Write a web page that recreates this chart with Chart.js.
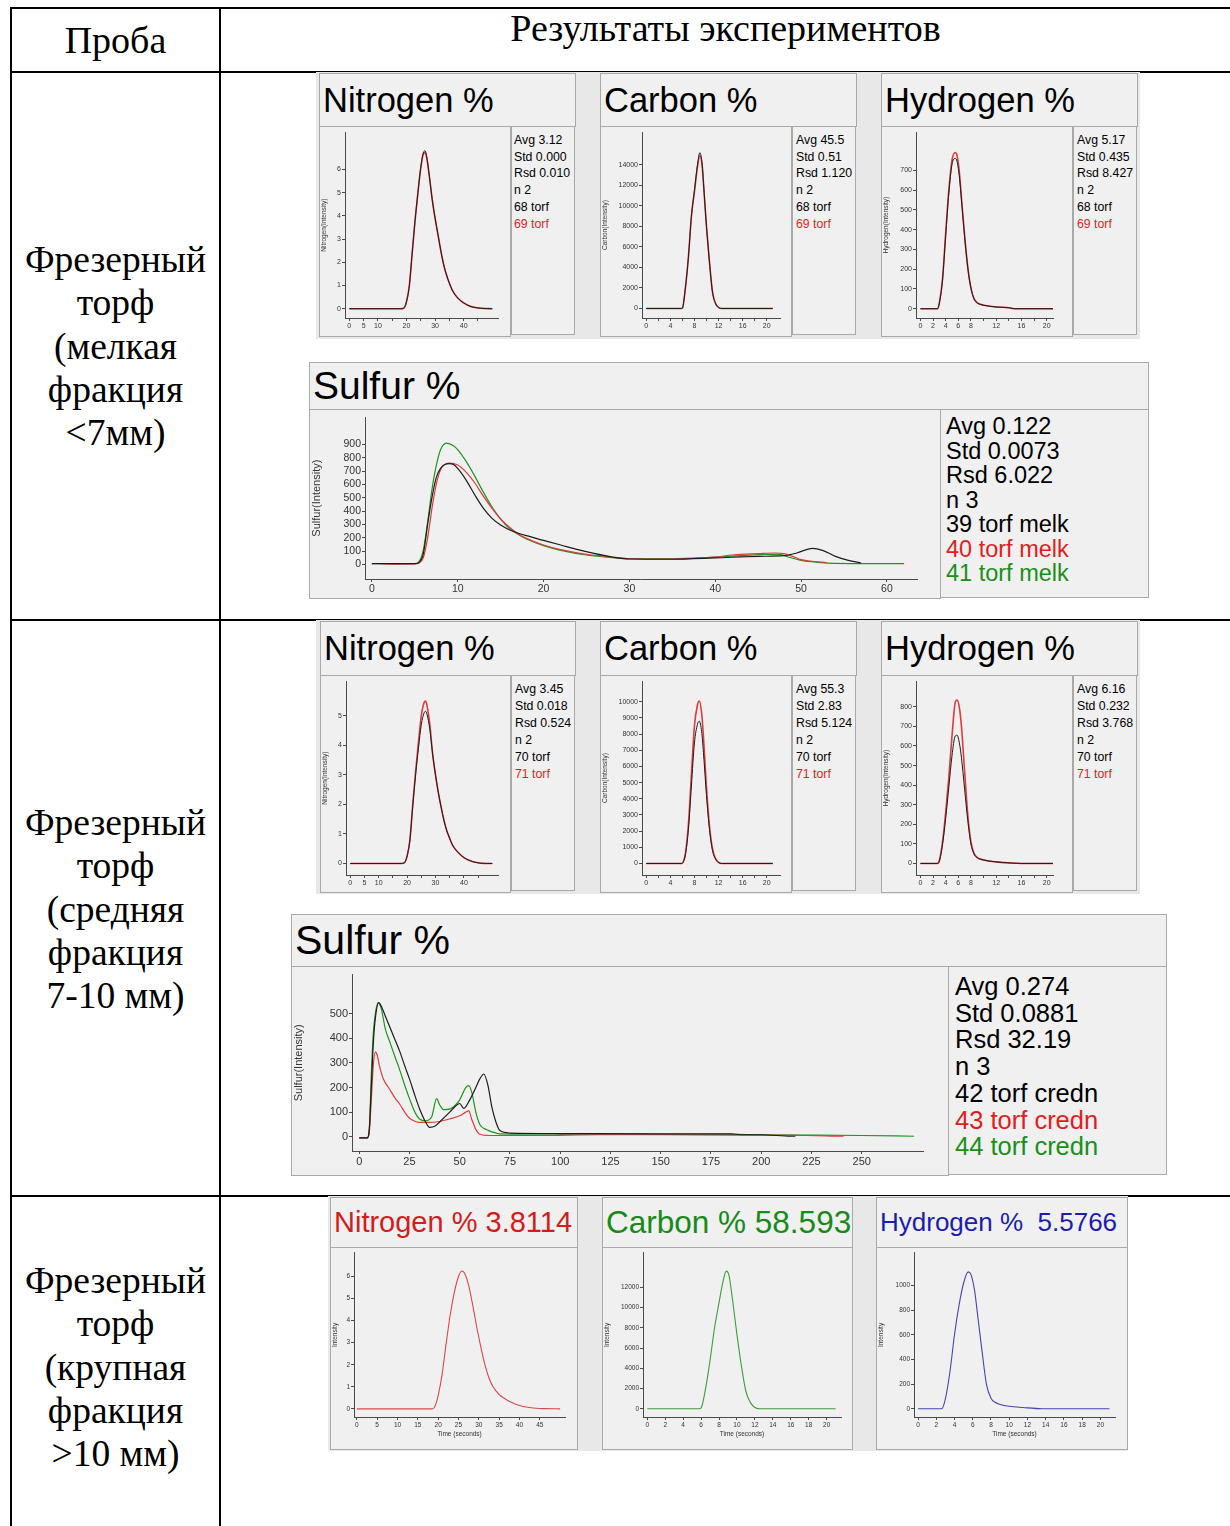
<!DOCTYPE html>
<html lang="ru">
<head>
<meta charset="utf-8">
<title>Результаты экспериментов</title>
<script src="https://cdn.jsdelivr.net/npm/chart.js@4.4.1/dist/chart.umd.min.js"></script>
<style>
  html, body { margin: 0; padding: 0; background: #fff; }
  body { width: 1230px; height: 1526px; position: relative; overflow: hidden;
         font-family: 'Liberation Serif', 'Times New Roman', serif; }
  .rule { position: absolute; background: #000; }
  .cell { position: absolute; text-align: center; color: #000; font-size: 37.5px; line-height: 43.3px; }
  .strip { position: absolute; background: #e8e8e8; }
  .box { position: absolute; box-sizing: border-box; background: #f0f0f0; border: 1px solid #a9a9a9; }
  .ttl { font-family: 'Liberation Sans', Arial, sans-serif; white-space: pre; padding-left: 3px; overflow: hidden; }
  .sts { font-family: 'Liberation Sans', Arial, sans-serif; white-space: pre; color: #000; overflow: hidden; }
  .box canvas { position: absolute; left: 0; top: 0; }
</style>
</head>
<body>

<!-- table rules -->
<div class="rule" style="left:10px;top:7px;width:1220px;height:2px"></div>
<div class="rule" style="left:10px;top:71px;width:1220px;height:2px"></div>
<div class="rule" style="left:10px;top:619px;width:1220px;height:2px"></div>
<div class="rule" style="left:10px;top:1195px;width:1220px;height:2px"></div>
<div class="rule" style="left:10px;top:7px;width:2px;height:1519px"></div>
<div class="rule" style="left:219px;top:7px;width:2px;height:1519px"></div>

<div class="cell" style="left:12px;top:20px;width:207px;line-height:40px;font-size:38px">Проба</div>
<div class="cell" style="left:221px;top:8px;width:1009px;line-height:40px;font-size:38px">Результаты экспериментов</div>

<div class="cell" style="left:12px;top:238px;width:207px">Фрезерный<br>торф<br>(мелкая<br>фракция<br>&lt;7мм)</div>
<div class="cell" style="left:12px;top:801px;width:207px">Фрезерный<br>торф<br>(средняя<br>фракция<br>7-10 мм)</div>
<div class="cell" style="left:12px;top:1259px;width:207px">Фрезерный<br>торф<br>(крупная<br>фракция<br>&gt;10 мм)</div>

<div class="strip" style="left:316px;top:72px;width:824px;height:267px"></div>
<div class="strip" style="left:316px;top:620px;width:824px;height:274px"></div>
<div class="strip" style="left:328px;top:1196px;width:800px;height:255px"></div>

<script>
// ---- time axes and intensities ----

// fine fraction (<7 mm), samples 68 / 69
const N1_T  = [0, 18, 19, 20, 21, 22, 23, 24, 25, 26, 26.5, 27, 28, 29, 30, 31, 32, 33, 34, 35, 36, 38, 40, 42, 44, 46, 50];
const N1_68 = [0, 0, 0.02, 0.3, 1.0, 2.4, 3.8, 5.0, 6.1, 6.75, 6.8, 6.6, 5.7, 4.7, 3.9, 3.2, 2.5, 1.9, 1.45, 1.1, 0.8, 0.45, 0.25, 0.12, 0.05, 0.02, 0];
const N1_69 = [0, 0, 0.02, 0.3, 1.0, 2.4, 3.8, 5.0, 6.05, 6.7, 6.72, 6.55, 5.7, 4.7, 3.9, 3.2, 2.5, 1.9, 1.45, 1.1, 0.8, 0.45, 0.25, 0.12, 0.05, 0.02, 0];

const C1_T  = [0, 5.8, 6, 6.5, 7, 7.5, 8, 8.5, 8.9, 9.3, 9.5, 10, 10.5, 11, 11.5, 12, 12.5, 21];
const C1_68 = [0, 0, 30, 2000, 5000, 9000, 11500, 14000, 15200, 14000, 12300, 8000, 4500, 1600, 500, 100, 0, 0];
const C1_69 = [0, 0, 30, 2000, 5000, 9000, 11400, 13800, 14900, 13800, 12200, 8000, 4500, 1600, 500, 100, 0, 0];

const H1_T  = [0, 2.7, 3, 3.5, 4, 4.5, 5, 5.5, 5.8, 6.2, 6.5, 7, 7.5, 8, 8.5, 9, 10, 12, 14, 15, 21];
const H1_68 = [0, 0, 28, 145, 370, 585, 730, 760, 745, 660, 550, 365, 208, 104, 50, 30, 18, 9, 5, 0, 0];
const H1_69 = [0, 0, 30, 150, 380, 600, 750, 790, 775, 680, 560, 370, 210, 105, 50, 30, 18, 9, 5, 0, 0];

const S1_39_T = [0, 5, 5.5, 6, 6.5, 7, 7.5, 8, 9, 9.5, 10, 11, 12, 13, 14, 15, 16, 17, 18, 20, 22, 24, 26, 28, 30, 35, 40, 45, 48, 49.5, 51.3, 52.5, 54, 55.5, 57];
const S1_39   = [5, 5, 15, 80, 300, 500, 650, 720, 755, 750, 720, 630, 520, 420, 345, 295, 260, 235, 215, 180, 145, 110, 80, 55, 40, 38, 48, 60, 65, 85, 120, 105, 60, 30, 10];
const S1_40_T = [1, 3, 5, 5.5, 6, 6.5, 7, 7.5, 8, 9, 10, 11, 12, 13, 14, 15, 16, 17, 18, 20, 22, 25, 28, 30, 35, 40, 42, 45, 47, 48, 49, 50, 51, 53];
const S1_40   = [5, 2, 3, 10, 50, 200, 420, 600, 710, 760, 745, 690, 610, 510, 420, 340, 280, 230, 195, 145, 110, 75, 55, 42, 40, 55, 70, 80, 85, 80, 60, 35, 25, 12];
const S1_41_T = [0, 5, 5.5, 6, 6.5, 7, 7.5, 8, 8.7, 9.5, 10, 11, 12, 13, 14, 15, 16, 17, 18, 20, 22, 25, 28, 30, 35, 40, 43, 46, 47.5, 48.5, 50, 52, 54, 58, 62];
const S1_41   = [5, 5, 20, 110, 320, 560, 740, 860, 910, 890, 860, 770, 660, 540, 430, 340, 270, 225, 190, 140, 105, 70, 50, 42, 42, 55, 65, 75, 75, 55, 30, 15, 7, 5, 5];

// medium fraction (7-10 mm), samples 70 / 71
const N2_T  = N1_T;
const N2_70 = [0, 0, 0.02, 0.25, 0.8, 1.95, 3.0, 3.9, 4.7, 5.1, 5.15, 5.05, 4.55, 3.7, 3.0, 2.4, 1.9, 1.45, 1.1, 0.85, 0.62, 0.37, 0.2, 0.1, 0.04, 0.01, 0];
const N2_71 = [0, 0, 0.02, 0.25, 0.8, 2.0, 3.1, 4.1, 5.0, 5.45, 5.5, 5.35, 4.7, 3.7, 3.0, 2.4, 1.9, 1.45, 1.1, 0.85, 0.62, 0.37, 0.2, 0.1, 0.04, 0.01, 0];

const C2_T  = [0, 5.9, 6.2, 6.5, 7, 7.5, 8, 8.5, 8.8, 9.2, 9.5, 10, 10.5, 11, 11.5, 12, 12.5, 21];
const C2_70 = [0, 0, 130, 530, 2100, 4800, 7450, 8600, 8800, 8150, 6850, 4200, 2100, 800, 270, 60, 0, 0];
const C2_71 = [0, 0, 150, 600, 2400, 5500, 8500, 9800, 10050, 9300, 7800, 4700, 2300, 900, 300, 70, 0, 0];

const H2_T  = [0, 2.7, 3, 3.5, 4, 4.5, 5, 5.5, 5.8, 6.2, 6.5, 7, 7.5, 8, 8.5, 9, 10, 12, 14, 16, 21];
const H2_70 = [0, 0, 12, 95, 230, 390, 550, 650, 655, 610, 540, 380, 220, 100, 48, 30, 18, 8, 3, 0, 0];
const H2_71 = [0, 0, 15, 110, 260, 440, 650, 820, 835, 790, 700, 470, 250, 110, 50, 30, 18, 8, 3, 0, 0];

const S2_42_T = [0, 4, 5, 6, 7, 8, 9.7, 11, 13, 15, 18, 20, 23, 25, 28, 30, 33, 35, 38, 40, 45, 48, 50, 52, 55, 58, 60, 62, 64, 66, 68, 70, 75, 100, 150, 185, 190, 200, 215, 217];
const S2_42   = [-5, -5, 30, 200, 380, 480, 545, 530, 490, 450, 390, 350, 280, 235, 160, 114, 60, 38, 45, 60, 100, 125, 135, 115, 150, 200, 235, 255, 210, 120, 60, 25, 15, 13, 12, 12, 8, 8, 2, 2];
const S2_43_T = [0, 4, 5, 6, 7, 8, 9, 10, 12, 15, 18, 20, 23, 25, 28, 30, 35, 40, 45, 50, 53, 54.5, 56, 58, 60, 65, 88, 120, 150, 186, 215, 241];
const S2_43   = [-5, -5, 20, 150, 290, 345, 330, 290, 235, 195, 155, 134, 95, 75, 62, 58, 58, 62, 72, 85, 100, 105, 70, 30, 10, 5, 5, 8, 8, 6, 6, 2];
const S2_44_T = [0, 4, 5, 6, 7, 8, 9.5, 11, 13, 15, 18, 20, 23, 25, 28, 30, 33, 36, 38.5, 40, 42, 45, 48, 50, 53, 54.5, 56, 58, 60, 63, 66, 70, 100, 150, 188, 200, 250, 276];
const S2_44   = [-5, -5, 30, 250, 420, 500, 545, 520, 437, 390, 320, 275, 200, 155, 95, 72, 65, 80, 155, 130, 110, 112, 130, 150, 200, 208, 180, 100, 50, 30, 20, 12, 10, 10, 10, 8, 5, 2];

// coarse fraction (>10 mm), single runs
const N3_T = [0, 18.5, 19, 19.5, 20, 21, 22, 23, 24, 25, 25.8, 26.5, 27.5, 28.5, 29.5, 30.5, 31.5, 32.5, 33.5, 35, 36.5, 38, 40, 42, 44, 46, 50];
const N3_V = [0, 0, 0.05, 0.25, 0.6, 1.6, 3.0, 4.3, 5.3, 6.0, 6.25, 6.15, 5.6, 4.7, 3.7, 2.8, 2.0, 1.4, 1.0, 0.65, 0.45, 0.3, 0.15, 0.07, 0.03, 0.01, 0];
const C3_T = [0, 5.8, 6, 6.5, 7, 7.5, 8, 8.5, 8.8, 9.1, 9.5, 10, 10.5, 11, 11.5, 12, 12.5, 21];
const C3_V = [0, 0, 80, 2000, 4800, 8000, 10500, 12800, 13600, 13200, 10800, 7300, 4200, 1700, 600, 120, 0, 0];
const H3_T = [0, 2.6, 3, 3.5, 4, 4.5, 5, 5.5, 5.8, 6.2, 6.6, 7, 7.5, 8, 8.5, 9, 10, 11.5, 13.6, 21];
const H3_V = [0, 0, 80, 300, 600, 840, 1020, 1110, 1090, 960, 720, 480, 200, 85, 50, 35, 20, 10, 0, 0];

// ---- ticks ----
const N_X_TICKS  = [0, 5, 10, 15, 20, 25, 30, 35, 40, 45];
const N_X_LABELS = [0, 5, 10, 20, 30, 40];
const CH_X_TICKS = [0, 2, 4, 6, 8, 10, 12, 14, 16, 18, 20];
const C_X_LABELS = [0, 4, 8, 12, 16, 20];
const H_X_LABELS = [0, 2, 4, 6, 8, 12, 16, 20];
const S1_X_TICKS = [0, 10, 20, 30, 40, 50, 60];
const S2_X_TICKS = [0, 25, 50, 75, 100, 125, 150, 175, 200, 225, 250];

const N1_Y_TICKS = [0, 1, 2, 3, 4, 5, 6];
const C1_Y_TICKS = [0, 2000, 4000, 6000, 8000, 10000, 12000, 14000];
const H1_Y_TICKS = [0, 100, 200, 300, 400, 500, 600, 700];
const N2_Y_TICKS = [0, 1, 2, 3, 4, 5];
const C2_Y_TICKS = [0, 1000, 2000, 3000, 4000, 5000, 6000, 7000, 8000, 9000, 10000];
const H2_Y_TICKS = [0, 100, 200, 300, 400, 500, 600, 700, 800];
const S1_Y_TICKS = [0, 100, 200, 300, 400, 500, 600, 700, 800, 900];
const S2_Y_TICKS = [0, 100, 200, 300, 400, 500];
const N3_Y_TICKS = [0, 1, 2, 3, 4, 5, 6];
const C3_Y_TICKS = [0, 2000, 4000, 6000, 8000, 10000, 12000];
const H3_Y_TICKS = [0, 200, 400, 600, 800, 1000];

// ---- result texts ----
const N1_STATS = ['Avg 3.12', 'Std 0.000', 'Rsd 0.010', 'n 2', '68 torf', '69 torf'];
const C1_STATS = ['Avg 45.5', 'Std 0.51', 'Rsd 1.120', 'n 2', '68 torf', '69 torf'];
const H1_STATS = ['Avg 5.17', 'Std 0.435', 'Rsd 8.427', 'n 2', '68 torf', '69 torf'];
const S1_STATS = ['Avg 0.122', 'Std 0.0073', 'Rsd 6.022', 'n 3', '39 torf melk', '40 torf melk', '41 torf melk'];
const N2_STATS = ['Avg 3.45', 'Std 0.018', 'Rsd 0.524', 'n 2', '70 torf', '71 torf'];
const C2_STATS = ['Avg 55.3', 'Std 2.83', 'Rsd 5.124', 'n 2', '70 torf', '71 torf'];
const H2_STATS = ['Avg 6.16', 'Std 0.232', 'Rsd 3.768', 'n 2', '70 torf', '71 torf'];
const S2_STATS = ['Avg 0.274', 'Std 0.0881', 'Rsd 32.19', 'n 3', '42 torf credn', '43 torf credn', '44 torf credn'];

const BLACK = '#1c1c1c';
const RED   = '#e03a3a';
const GREEN = '#1e951e';
const PAIR_COLORS  = ['#000', '#000', '#000', '#000', '#000', '#e01e1e'];
const TRIO_COLORS  = ['#000', '#000', '#000', '#000', '#000', '#e01e1e', '#1a8f1a'];
const FONT = "'Liberation Sans', Arial, sans-serif";

function box(r, cls) {
  const d = document.createElement('div');
  d.className = 'box ' + (cls || '');
  d.style.left = r[0] + 'px';
  d.style.top = r[1] + 'px';
  d.style.width = r[2] + 'px';
  d.style.height = r[3] + 'px';
  document.body.appendChild(d);
  return d;
}

function line(t, v, color, width) {
  return {
    data: t.map((x, i) => ({ x: x, y: v[i] })),
    borderColor: color,
    borderWidth: width || 1,
    pointRadius: 0,
    fill: false,
    cubicInterpolationMode: 'monotone',
  };
}

function panel(p) {
  const tb = box(p.t, 'ttl');
  tb.textContent = p.title;
  tb.style.fontSize = p.tsize + 'px';
  tb.style.lineHeight = (p.t[3] - 2) + 'px';
  tb.style.color = p.tcolor || '#000';

  const pb = box(p.p);
  const cv = document.createElement('canvas');
  const cw = p.p[2] - 2, chh = p.ch || (p.p[3] - 2);
  cv.width = cw; cv.height = chh;
  cv.style.width = cw + 'px'; cv.style.height = chh + 'px';
  pb.appendChild(cv);

  if (p.s) {
    const sb = box(p.s, 'sts');
    sb.style.fontSize = p.ssize + 'px';
    sb.style.lineHeight = p.sline + 'px';
    sb.style.padding = p.spad[0] + 'px 0 0 ' + p.spad[1] + 'px';
    p.stats.forEach((txt, i) => {
      const r = document.createElement('div');
      r.textContent = txt;
      r.style.color = p.scolors[i];
      sb.appendChild(r);
    });
  }

  const c = p.c;
  const font = { family: FONT, size: c.fs };
  const axis = '#4a4a4a';
  new Chart(cv, {
    type: 'line',
    data: { datasets: c.series },
    options: {
      responsive: false,
      animation: false,
      events: [],
      layout: { padding: { top: c.padT, right: c.padR, left: 0, bottom: 0 } },
      plugins: { legend: { display: false }, tooltip: { enabled: false } },
      scales: {
        x: {
          type: 'linear', min: c.x[0], max: c.x[1],
          afterBuildTicks: (a) => { a.ticks = c.xTicks.map((v) => ({ value: v })); },
          afterFit: (a) => { a.height = c.axisH; },
          ticks: { autoSkip: false, maxRotation: 0, font: font, color: '#333', padding: 1,
                   callback: (v) => (c.xLabels.includes(v) ? String(v) : '') },
          grid: { drawOnChartArea: false, drawTicks: true, tickLength: 3, color: axis },
          border: { color: axis, width: 1 },
          title: { display: !!c.xTitle, text: c.xTitle || '', font: font, color: '#333', padding: 0 },
        },
        y: {
          type: 'linear', min: c.y[0], max: c.y[1],
          afterBuildTicks: (a) => { a.ticks = c.yTicks.map((v) => ({ value: v })); },
          afterFit: (a) => { a.width = c.axisW; },
          ticks: { autoSkip: false, font: font, color: '#333', padding: 1,
                   callback: (v) => String(v) },
          grid: { drawOnChartArea: false, drawTicks: true, tickLength: 3, color: axis },
          border: { color: axis, width: 1 },
          title: { display: true, text: c.yTitle, font: { family: FONT, size: c.yfs || c.fs },
                   color: '#333', padding: { top: 0, bottom: 1 } },
        },
      },
    },
  });
}

const SMALL = { fs: 7, yfs: 6.5 };

const PANELS = [
  { title: 'Nitrogen %', tsize: 34.5, t: [319, 73, 257, 54], p: [319, 126, 192, 211], s: [511, 126, 64, 209],
    stats: N1_STATS, scolors: PAIR_COLORS, ssize: 12.3, sline: 16.7, spad: [5, 2],
    c: { ...SMALL, x: [-1.5, 52], y: [-0.4, 7.6], xTicks: N_X_TICKS, xLabels: N_X_LABELS, yTicks: N1_Y_TICKS,
         yTitle: 'Nitrogen(Intensity)', axisW: 25, axisH: 18, padT: 3, padR: 12,
         series: [line(N1_T, N1_68, BLACK, 1), line(N1_T, N1_69, RED, 1.6)] } },
  { title: 'Carbon %', tsize: 34.5, t: [600, 73, 257, 54], p: [600, 126, 192, 211], s: [792, 126, 64, 209],
    stats: C1_STATS, scolors: PAIR_COLORS, ssize: 12.3, sline: 16.7, spad: [5, 3],
    c: { ...SMALL, x: [-0.7, 22.2], y: [-930, 17200], xTicks: CH_X_TICKS, xLabels: C_X_LABELS, yTicks: C1_Y_TICKS,
         yTitle: 'Carbon(Intensity)', axisW: 41, axisH: 18, padT: 3, padR: 11,
         series: [line(C1_T, C1_68, BLACK, 1), line(C1_T, C1_69, RED, 1.6)] } },
  { title: 'Hydrogen %', tsize: 34.5, t: [881, 73, 257, 54], p: [881, 126, 192, 211], s: [1073, 126, 64, 209],
    stats: H1_STATS, scolors: PAIR_COLORS, ssize: 12.3, sline: 16.7, spad: [5, 3],
    c: { ...SMALL, x: [-0.7, 21], y: [-47, 893], xTicks: CH_X_TICKS, xLabels: H_X_LABELS, yTicks: H1_Y_TICKS,
         yTitle: 'Hydrogen(Intensity)', axisW: 34, axisH: 18, padT: 3, padR: 19,
         series: [line(H1_T, H1_68, BLACK, 1), line(H1_T, H1_69, RED, 1.6)] } },
  { title: 'Sulfur %', tsize: 39, t: [309, 362, 840, 48], p: [309, 409, 632, 190], s: [940, 409, 209, 189],
    stats: S1_STATS, scolors: TRIO_COLORS, ssize: 23.5, sline: 24.5, spad: [4, 5],
    c: { fs: 10.5, yfs: 11, x: [-0.8, 63.5], y: [-110, 1103], xTicks: S1_X_TICKS, xLabels: S1_X_TICKS, yTicks: S1_Y_TICKS,
         yTitle: 'Sulfur(Intensity)', axisW: 55, axisH: 19, padT: 4, padR: 23,
         series: [line(S1_39_T, S1_39, BLACK, 1.2), line(S1_40_T, S1_40, RED, 1.2), line(S1_41_T, S1_41, GREEN, 1.2)] } },

  { title: 'Nitrogen %', tsize: 34.5, t: [320, 621, 256, 55], p: [320, 675, 191, 218], s: [511, 675, 64, 216],
    stats: N2_STATS, scolors: PAIR_COLORS, ssize: 12.3, sline: 17, spad: [5, 3],
    c: { ...SMALL, x: [-1.5, 52], y: [-0.39, 6.17], xTicks: N_X_TICKS, xLabels: N_X_LABELS, yTicks: N2_Y_TICKS,
         yTitle: 'Nitrogen(Intensity)', axisW: 25, axisH: 17, padT: 3, padR: 12,
         series: [line(N2_T, N2_70, BLACK, 1), line(N2_T, N2_71, RED, 1.6)] } },
  { title: 'Carbon %', tsize: 34.5, t: [600, 621, 257, 55], p: [600, 675, 192, 218], s: [792, 675, 64, 216],
    stats: C2_STATS, scolors: PAIR_COLORS, ssize: 12.3, sline: 17, spad: [5, 3],
    c: { ...SMALL, x: [-0.7, 22.2], y: [-714, 11270], xTicks: CH_X_TICKS, xLabels: C_X_LABELS, yTicks: C2_Y_TICKS,
         yTitle: 'Carbon(Intensity)', axisW: 41, axisH: 17, padT: 3, padR: 11,
         series: [line(C2_T, C2_70, BLACK, 1), line(C2_T, C2_71, RED, 1.6)] } },
  { title: 'Hydrogen %', tsize: 34.5, t: [881, 621, 257, 55], p: [881, 675, 192, 218], s: [1073, 675, 64, 216],
    stats: H2_STATS, scolors: PAIR_COLORS, ssize: 12.3, sline: 17, spad: [5, 3],
    c: { ...SMALL, x: [-0.7, 21], y: [-59, 931], xTicks: CH_X_TICKS, xLabels: H_X_LABELS, yTicks: H2_Y_TICKS,
         yTitle: 'Hydrogen(Intensity)', axisW: 34, axisH: 17, padT: 3, padR: 19,
         series: [line(H2_T, H2_70, BLACK, 1), line(H2_T, H2_71, RED, 1.6)] } },
  { title: 'Sulfur %', tsize: 41, t: [291, 914, 876, 53], p: [291, 966, 658, 210], s: [948, 966, 219, 209],
    stats: S2_STATS, scolors: TRIO_COLORS, ssize: 25.5, sline: 26.7, spad: [6, 6],
    c: { fs: 11, yfs: 11, x: [-3.6, 280.5], y: [-58, 659], xTicks: S2_X_TICKS, xLabels: S2_X_TICKS, yTicks: S2_Y_TICKS,
         yTitle: 'Sulfur(Intensity)', axisW: 60, axisH: 24, padT: 5, padR: 25,
         series: [line(S2_42_T, S2_42, BLACK, 1.2), line(S2_43_T, S2_43, RED, 1.2), line(S2_44_T, S2_44, GREEN, 1.2)] } },

  { title: 'Nitrogen % 3.8114', tsize: 29, tcolor: '#d41c1c', t: [330, 1197, 248, 51], p: [330, 1247, 248, 203], ch: 190,
    c: { fs: 6.5, x: [-0.7, 51.2], y: [-0.37, 7.07], xTicks: N_X_TICKS, xLabels: N_X_TICKS, yTicks: N3_Y_TICKS,
         yTitle: 'Intensity', xTitle: 'Time (seconds)', axisW: 23, axisH: 21, padT: 2, padR: 12,
         series: [line(N3_T, N3_V, '#d94848', 1.1)] } },
  { title: 'Carbon % 58.593', tsize: 31.5, tcolor: '#178a17', t: [602, 1197, 251, 51], p: [602, 1247, 251, 203], ch: 190,
    c: { fs: 6.5, x: [-0.48, 21.6], y: [-820, 15400], xTicks: CH_X_TICKS, xLabels: CH_X_TICKS, yTicks: C3_Y_TICKS,
         yTitle: 'Intensity', xTitle: 'Time (seconds)', axisW: 40, axisH: 21, padT: 2, padR: 11,
         series: [line(C3_T, C3_V, '#3a9e3a', 1.1)] } },
  { title: 'Hydrogen %  5.5766', tsize: 26, tcolor: '#1c1cb0', t: [876, 1197, 252, 51], p: [876, 1247, 252, 203], ch: 190,
    c: { fs: 6.5, x: [-0.44, 21.6], y: [-67, 1264], xTicks: CH_X_TICKS, xLabels: CH_X_TICKS, yTicks: H3_Y_TICKS,
         yTitle: 'Intensity', xTitle: 'Time (seconds)', axisW: 37, axisH: 21, padT: 2, padR: 12,
         series: [line(H3_T, H3_V, '#4545b0', 1.1)] } },
];

PANELS.forEach(panel);
</script>
</body>
</html>
